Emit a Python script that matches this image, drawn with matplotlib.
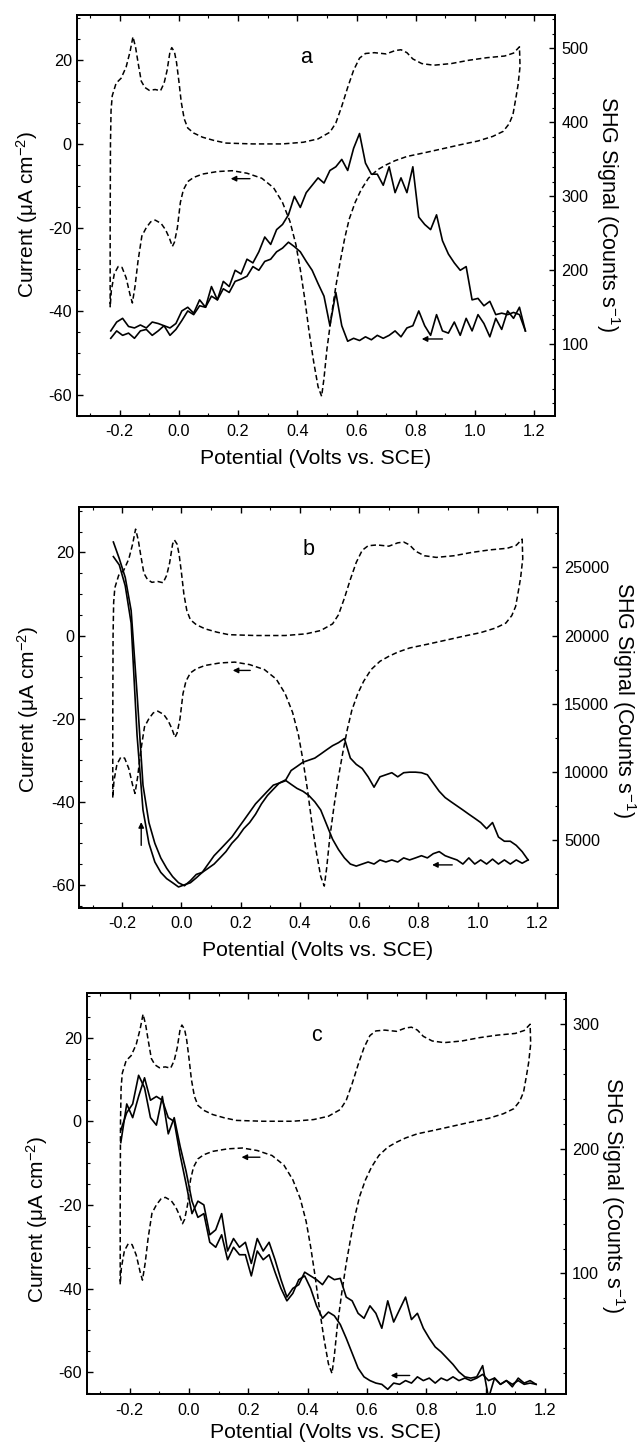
import matplotlib
matplotlib.use('Agg')
import matplotlib.pyplot as plt
from matplotlib.ticker import MultipleLocator, FormatStrFormatter

plt.rcParams['font.family'] = ['Liberation Sans', 'DejaVu Sans']
plt.rcParams['mathtext.fontset'] = 'custom'
plt.rcParams['mathtext.rm'] = 'Liberation Sans'
plt.rcParams['mathtext.it'] = 'Liberation Sans:italic'
plt.rcParams['axes.unicode_minus'] = False

# --- cyclic voltammogram (dashed, left axis), same in all three panels ---
cv_potential = [-0.232, -0.232, -0.231, -0.229, -0.225, -0.212, -0.195, -0.178, -0.165, -0.155,
                -0.146, -0.138, -0.127, -0.115, -0.100, -0.080, -0.062, -0.050, -0.040, -0.030,
                -0.024, -0.015, -0.008, 0.000, 0.008, 0.018, 0.030, 0.050, 0.080, 0.120,
                0.160, 0.250, 0.350, 0.420, 0.470, 0.510, 0.530, 0.550, 0.570, 0.590,
                0.610, 0.630, 0.660, 0.700, 0.730, 0.750, 0.770, 0.790, 0.820, 0.860,
                0.920, 0.980, 1.040, 1.100, 1.130, 1.150,
                1.152, 1.145, 1.138, 1.128, 1.115, 1.095, 1.060, 1.010, 0.950, 0.900,
                0.830, 0.770, 0.730, 0.700, 0.670, 0.640, 0.615, 0.595, 0.575, 0.560,
                0.545, 0.530, 0.515, 0.500, 0.490, 0.482, 0.470, 0.455, 0.440, 0.425,
                0.410, 0.395, 0.375, 0.350, 0.320, 0.280, 0.230, 0.180, 0.130, 0.080,
                0.050, 0.030, 0.015, 0.005, -0.005, -0.015, -0.022, -0.032, -0.045, -0.060,
                -0.080, -0.095, -0.110, -0.125, -0.138, -0.148, -0.157, -0.165, -0.178, -0.192,
                -0.205, -0.218, -0.228, -0.232]
cv_current = [-39, -20, 0, 8, 11.5, 14.5, 15.7, 18.4, 22, 25.6,
              23, 19.5, 15, 13.5, 12.8, 13.0, 12.7, 14.5, 17.5, 22,
              23, 22, 19.5, 15, 10, 6, 3.8, 2.6, 1.6, 0.8,
              0.2, 0, 0, 0.4, 1.2, 2.8, 5, 9, 13.5, 17.6,
              20.5, 21.6, 21.8, 21.5, 22.3, 22.5, 21.8, 20.3, 19.2, 18.8,
              19.2, 20.0, 20.6, 21.0, 21.7, 23.2,
              18.5, 14, 11, 7, 4.8, 3, 1.8, 0.7, -0.2, -1,
              -2.1, -3, -4, -5, -6.2, -8.2, -11, -14, -18, -22.5,
              -28, -34, -41, -49, -56, -60.3, -58, -52, -45, -37,
              -30, -24, -18.5, -14, -10.5, -8.2, -7, -6.4, -6.6, -7.2,
              -8, -9, -11, -14, -20, -23.5, -24.5, -22.5, -20.5, -19.0,
              -18.2, -18.6, -20, -22, -28, -34, -38, -36, -32, -29.5,
              -29.3, -31, -35, -39]

# --- SHG signal (solid, right axis), sampled every 0.02 V ---
potential = [-0.23, -0.21, -0.19, -0.17, -0.15, -0.13, -0.11, -0.09, -0.07, -0.05,
             -0.03, -0.01, 0.01, 0.03, 0.05, 0.07, 0.09, 0.11, 0.13, 0.15,
             0.17, 0.19, 0.21, 0.23, 0.25, 0.27, 0.29, 0.31, 0.33, 0.35,
             0.37, 0.39, 0.41, 0.43, 0.45, 0.47, 0.49, 0.51, 0.53, 0.55,
             0.57, 0.59, 0.61, 0.63, 0.65, 0.67, 0.69, 0.71, 0.73, 0.75,
             0.77, 0.79, 0.81, 0.83, 0.85, 0.87, 0.89, 0.91, 0.93, 0.95,
             0.97, 0.99, 1.01, 1.03, 1.05, 1.07, 1.09, 1.11, 1.13, 1.15,
             1.17]
potential_back = potential[::-1]

# panel a: forward sweep (-0.23 -> 1.17), return sweep (1.17 -> -0.23)
shg_a_fwd = [118, 130, 135, 124, 122, 126, 122, 130, 128, 125,
             122, 128, 145, 150, 142, 160, 150, 178, 160, 185,
             178, 200, 195, 215, 210, 225, 245, 235, 255, 262,
             275, 300, 285, 305, 315, 325, 318, 335, 340, 350,
             335, 365, 385, 345, 330, 330, 315, 340, 305, 325,
             305, 340, 272, 262, 255, 275, 240, 222, 210, 200,
             205, 160, 162, 152, 158, 140, 142, 140, 143, 140,
             118]
shg_a_rev = [118, 150, 135, 145, 120, 135, 110, 128, 140, 118,
             135, 112, 130, 115, 118, 140, 112, 125, 145, 125,
             122, 110, 118, 112, 108, 112, 106, 110, 105, 108,
             104, 125, 170, 125, 165, 182, 200, 212, 225, 232,
             238, 230, 225, 215, 212, 200, 205, 192, 188, 185,
             170, 175, 160, 165, 150, 152, 140, 145, 132, 120,
             112, 125, 118, 112, 120, 118, 108, 115, 112, 118,
             108]

# panel b
shg_b_fwd = [26850, 25630, 24260, 21830, 15740, 9040, 6300, 4780, 3710, 2950,
             2340, 1890, 1670, 2040, 2500, 2650, 3260, 3870, 4320, 4780,
             5240, 5850, 6450, 7060, 7670, 8130, 8590, 9040, 9190, 9350,
             10110, 10410, 10720, 10870, 11020, 11320, 11630, 11930, 12150, 12450,
             11020, 10560, 10260, 9650, 8890, 9650, 9800, 9950, 9650, 9950,
             9990, 9990, 9950, 9800, 9190, 8590, 8130, 7820, 7520, 7220,
             6910, 6610, 6300, 5850, 6300, 5240, 4930, 4930, 4630, 4170,
             3560]
shg_b_rev = [3560, 3320, 3560, 3260, 3560, 3260, 3620, 3260, 3560, 3260,
             3710, 3260, 3560, 3710, 3870, 4170, 4020, 3710, 3870, 3710,
             3560, 3710, 3410, 3560, 3410, 3560, 3260, 3410, 3260, 3110,
             3260, 3710, 4320, 5080, 6150, 7220, 7820, 8280, 8590, 8800,
             9100, 9410, 9190, 8740, 8280, 7670, 6910, 6300, 5850, 5240,
             4780, 4170, 3710, 3260, 2950, 2650, 2250, 1890, 1740, 1580,
             1890, 2190, 2650, 3410, 4780, 7220, 12690, 20910, 23650, 25170,
             25780]

# panel c
shg_c_fwd = [205, 236, 225, 242, 257, 239, 242, 239, 225, 222,
             195, 172, 148, 158, 155, 131, 135, 148, 118, 128,
             121, 125, 108, 128, 118, 125, 111, 95, 81, 88,
             91, 101, 98, 95, 91, 98, 95, 96, 81, 78,
             68, 64, 74, 68, 56, 78, 61, 71, 81, 63,
             68, 56, 48, 41, 37, 32, 27, 21, 17, 16,
             17, 26, 0, 16, 11, 14, 9, 16, 12, 14,
             11]
shg_c_rev = [11, 12, 11, 14, 11, 14, 11, 16, 14, 19,
             16, 14, 16, 14, 17, 14, 16, 12, 16, 14,
             17, 12, 14, 11, 12, 7, 11, 12, 14, 17,
             24, 36, 48, 59, 66, 69, 64, 74, 88, 98,
             95, 84, 78, 88, 101, 115, 111, 118, 98, 115,
             115, 121, 111, 131, 121, 125, 148, 145, 158, 182,
             202, 225, 212, 242, 219, 225, 249, 259, 236, 229,
             215]


def draw_panel(fig, rect, letter, shg_fwd, shg_rev, ylim_left, ylim_right,
               right_major, right_minor, arrows):
	"""
	one panel: dashed CV on the left axis, SHG (two sweeps) on the right axis
	"""
	ax = fig.add_axes(rect)
	ax.plot(cv_potential, cv_current, color='k', lw=1.1, dashes=(3.5, 2))
	ax.set_xlim(-0.345, 1.27)
	ax.set_ylim(*ylim_left)
	ax.xaxis.set_major_locator(MultipleLocator(0.2))
	ax.xaxis.set_minor_locator(MultipleLocator(0.1))
	ax.xaxis.set_major_formatter(FormatStrFormatter('%.1f'))
	ax.yaxis.set_major_locator(MultipleLocator(20))
	ax.yaxis.set_minor_locator(MultipleLocator(5))
	ax.tick_params(which='both', direction='in', top=True, labelsize=11.7)
	ax.tick_params(axis='x', which='major', pad=6)
	ax.tick_params(which='major', length=4, width=1)
	ax.tick_params(which='minor', length=2.2, width=0.8)
	ax.text(0.43, 20.6, letter, fontsize=15.5, ha='center', va='center')

	ax2 = ax.twinx()
	ax2.plot(potential, shg_fwd, color='k', lw=1.2)
	ax2.plot(potential_back, shg_rev, color='k', lw=1.2)
	ax2.set_ylim(*ylim_right)
	ax2.yaxis.set_major_locator(MultipleLocator(right_major))
	ax2.yaxis.set_minor_locator(MultipleLocator(right_minor))
	ax2.tick_params(which='both', direction='in', labelsize=11.7, pad=4.5)
	ax2.tick_params(which='major', length=4, width=1)
	ax2.tick_params(which='minor', length=2.2, width=0.8)

	for a in (ax, ax2):
		for s in a.spines.values():
			s.set_linewidth(1.3)

	for (x0, y0, x1, y1) in arrows:
		ax.annotate('', xy=(x1, y1), xytext=(x0, y0),
		            arrowprops=dict(arrowstyle='-|>', color='k', lw=1.0,
		                            mutation_scale=8, shrinkA=0, shrinkB=0))
	return ax, ax2


W, H = 640.0, 1445.0
fig = plt.figure(figsize=(6.4, 14.45), dpi=100)


def rect_px(left, top, right, bottom):
	return [left / W, 1 - bottom / H, (right - left) / W, (bottom - top) / H]


def label_px(x, y, txt, rot, size):
	fig.text(x / W, 1 - y / H, txt, ha='center', va='center', rotation=rot, fontsize=size)


ylab = 'Current (μA cm$^{-2}$)'
rlab = 'SHG Signal (Counts s$^{-1}$)'
xlab = 'Potential (Volts vs. SCE)'

draw_panel(fig, rect_px(76.7, 15, 555, 416), 'a', shg_a_fwd, shg_a_rev,
           (-65, 30.8), (2.9, 545.3), 100, 20,
           [(0.24, -8.3, 0.175, -8.3), (0.89, -46.6, 0.82, -46.6)])
label_px(27.5, 215, ylab, 90, 15)
label_px(608, 214, rlab, 270, 15.5)
label_px(316, 459, xlab, 0, 15.3)

draw_panel(fig, rect_px(79.3, 506.7, 557.7, 907.7), 'b', shg_b_fwd, shg_b_rev,
           (-65.5, 31), (62, 29436), 5000, 2500,
           [(0.232, -8.4, 0.173, -8.4), (0.914, -55.2, 0.846, -55.2),
            (-0.136, -50.5, -0.136, -44.9)])
label_px(28.5, 710, ylab, 90, 15)
label_px(624, 700, rlab, 270, 15.5)
label_px(318, 950, xlab, 0, 15.3)

draw_panel(fig, rect_px(86.7, 993.3, 565.7, 1394.3), 'c', shg_c_fwd, shg_c_rev,
           (-65.3, 30.6), (3.0, 324.8), 100, 20,
           [(0.239, -8.6, 0.177, -8.6), (0.744, -60.8, 0.68, -60.8)])
label_px(37, 1220, ylab, 90, 15)
label_px(613, 1195, rlab, 270, 15.5)
label_px(326, 1433, xlab, 0, 15.3)

fig.savefig('out.png', dpi=100)
